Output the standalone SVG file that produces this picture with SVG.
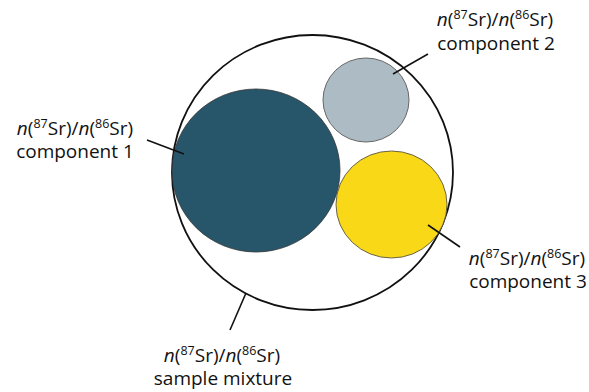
<svg xmlns="http://www.w3.org/2000/svg" width="589" height="392" viewBox="0 0 589 392">
<style>
text{font-family:"Open Sans","Noto Sans",sans-serif;font-size:19px;fill:#111;text-anchor:middle}
.i{font-style:italic}
.s{font-size:12.5px;baseline-shift:7px}
.lead{stroke:#111;stroke-width:1.6;fill:none}
</style>
<rect width="589" height="392" fill="#fff"/>
<g id="mixture">
<ellipse cx="312.5" cy="172.5" rx="140.5" ry="137.5" fill="none" stroke="#111" stroke-width="1.8"/>
</g>
<g id="component1">
<ellipse cx="256" cy="170.5" rx="84" ry="81.5" fill="#27566b" stroke="#333" stroke-width="0.8"/>
</g>
<g id="component2">
<ellipse cx="366" cy="100" rx="43" ry="42" fill="#adbcc4" stroke="#666" stroke-width="1"/>
</g>
<g id="component3">
<ellipse cx="391.5" cy="204.5" rx="55.5" ry="53.5" fill="#f9d817" stroke="#444" stroke-width="0.8"/>
</g>
<g id="connectors">
<line class="lead" x1="393" y1="74" x2="428" y2="54"/>
<line class="lead" x1="147" y1="140" x2="184" y2="154"/>
<line class="lead" x1="428" y1="225" x2="460" y2="247"/>
<line class="lead" x1="246" y1="293" x2="230" y2="330"/>
</g>
<g id="label2">
<text x="495" y="26"><tspan class="i">n</tspan>(<tspan class="s">87</tspan>Sr)/<tspan class="i">n</tspan>(<tspan class="s">86</tspan>Sr)</text>
<text x="496" y="50">component 2</text>
</g>
<g id="label1">
<text x="75" y="135"><tspan class="i">n</tspan>(<tspan class="s">87</tspan>Sr)/<tspan class="i">n</tspan>(<tspan class="s">86</tspan>Sr)</text>
<text x="75" y="158">component 1</text>
</g>
<g id="label3">
<text x="527" y="265"><tspan class="i">n</tspan>(<tspan class="s">87</tspan>Sr)/<tspan class="i">n</tspan>(<tspan class="s">86</tspan>Sr)</text>
<text x="528" y="288">component 3</text>
</g>
<g id="labelmix">
<text x="222" y="362"><tspan class="i">n</tspan>(<tspan class="s">87</tspan>Sr)/<tspan class="i">n</tspan>(<tspan class="s">86</tspan>Sr)</text>
<text x="223" y="385">sample mixture</text>
</g>
</svg>
